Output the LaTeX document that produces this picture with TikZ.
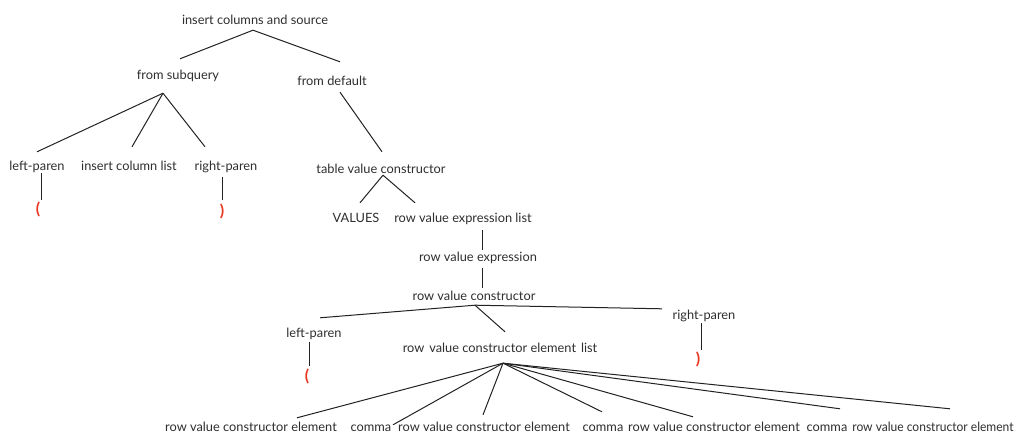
\documentclass[tikz,border=0pt]{standalone}
\usepackage{fontspec}
\usepackage{graphicx}
\setmainfont{Lato}
\usetikzlibrary{calc}
\definecolor{txt}{HTML}{2E2E2E}
\definecolor{edgecol}{HTML}{222222}
\definecolor{parred}{HTML}{E8351E}
\tikzset{
  lbl/.style={font=\fontsize{12.8}{15}\selectfont, text=txt, inner sep=0pt,
              text height=10.5pt, text depth=0.5pt},
  parsym/.style={font=\fontsize{16}{18}\selectfont\bfseries, text=parred, inner sep=0pt,
              text height=10pt, text depth=1pt},
  edge/.style={draw=edgecol, line width=1pt}
}
\begin{document}
\begin{tikzpicture}[x=1pt,y=-1pt]
\useasboundingbox (0,0) rectangle (1017,435);

% upper part of the parse tree
\node[lbl] (root) at (255,20)  {insert columns and source};
\node[lbl] (fs)   at (178,75)  {from subquery};
\node[lbl] (fd)   at (332,81)  {from default};
\node[lbl] (lp1)  at (37,166)  {left-paren};
\node[lbl] (icl)  at (129,166) {insert column list};
\node[lbl] (rp1)  at (226,166) {right-paren};
\node[parsym] (lpar1) at (38,210) {(};
\node[parsym] (rpar1) at (222,212) {)};
\node[lbl] (tvc)  at (381,169) {table value constructor};
\node[lbl] (vals) at (356,218) {VALUES};
\node[lbl] (rvel) at (463,218) {row value expression list};
\node[lbl] (rve)  at (478,257) {row value expression};
\node[lbl] (rvc)  at (474,296) {row value constructor};
\node[lbl] (lp2)  at (314,333) {left-paren};
\node[lbl] (rp2)  at (704,315) {right-paren};
\node[parsym] (lpar2) at (307,377) {(};
\node[parsym] (rpar2) at (698,360) {)};
\node[lbl] (rvcel) at (500,348) {row\hspace{5pt}value constructor element\hspace{5pt}list};

% leaves of the element list
\node[lbl] (e1) at (251,426) {row value constructor element};
\node[lbl] (c1) at (371,426) {comma};
\node[lbl] (e2) at (484,426) {row value constructor element};
\node[lbl] (c2) at (603,426) {comma};
\node[lbl] (e3) at (714,426) {row value constructor element};
\node[lbl] (c3) at (827,426) {comma};
\node[lbl] (e4) at (933,426) {\scalebox{0.94}[1]{row value constructor element}};

% connectors
\coordinate (rootA) at ($(root.south)+(-2,4.5)$);
\draw[edge] (rootA) -- ($(fs.north)+(2,-10.5)$);
\draw[edge] (rootA) -- ($(fd.north)+(8,-13.5)$);

\coordinate (fsA) at ($(fs.south)+(-15,12.5)$);
\draw[edge] (fsA) -- ($(lp1.north)+(0,-8.5)$);
\draw[edge] (fsA) -- ($(icl.north)+(3,-13.5)$);
\draw[edge] (fsA) -- ($(rp1.north)+(-21,-13.5)$);

\draw[edge] ($(fd.south)+(8,5.5)$) -- ($(tvc.north)+(1,-11.5)$);

\draw[edge] ($(lp1.south)+(4,1.5)$) -- ($(lpar1.north)+(3,-4.5)$);
\draw[edge] ($(rp1.south)+(-4,5.5)$) -- ($(rpar1.north)+(0,-6.5)$);

\coordinate (tvcA) at ($(tvc.south)+(2,0.5)$);
\draw[edge] (tvcA) -- ($(vals.north)+(4,-9.5)$);
\draw[edge] (tvcA) -- ($(rvel.north)+(-48,-9.5)$);

\draw[edge] ($(rvel.south)+(19,6.5)$) -- ($(rve.north)+(4,-1.5)$);
\draw[edge] ($(rve.south)+(4,5.5)$) -- ($(rvc.north)+(8,-2.5)$);

\coordinate (rvcA) at ($(rvc.south)+(1,3.5)$);
\draw[edge] (rvcA) -- ($(lp2.north)+(6,-9.5)$);
\draw[edge] (rvcA) -- ($(rp2.north)+(-42,-0.5)$);
\draw[edge] (rvcA) -- ($(rvcel.north)+(5,-10.5)$);

\draw[edge] ($(lp2.south)+(-5,3.5)$) -- ($(lpar2.north)+(2,-5.5)$);
\draw[edge] ($(rp2.south)+(-3,2.5)$) -- ($(rpar2.north)+(3,-4.5)$);

\coordinate (fanA) at ($(rvcel.south)+(3,9.5)$);
\draw[edge] (fanA) -- ($(e1.north)+(46,-2.5)$);
\draw[edge] (fanA) -- ($(c1.north)+(22,4.5)$);
\draw[edge] (fanA) -- ($(e2.north)+(-1,-5.5)$);
\draw[edge] (fanA) -- ($(c2.north)+(-1,-8.5)$);
\draw[edge] (fanA) -- ($(e3.north)+(-21,-3.5)$);
\draw[edge] (fanA) -- ($(c3.north)+(13,-11.5)$);
\draw[edge] (fanA) -- ($(e4.north)+(17,-11.5)$);
\end{tikzpicture}
\end{document}
